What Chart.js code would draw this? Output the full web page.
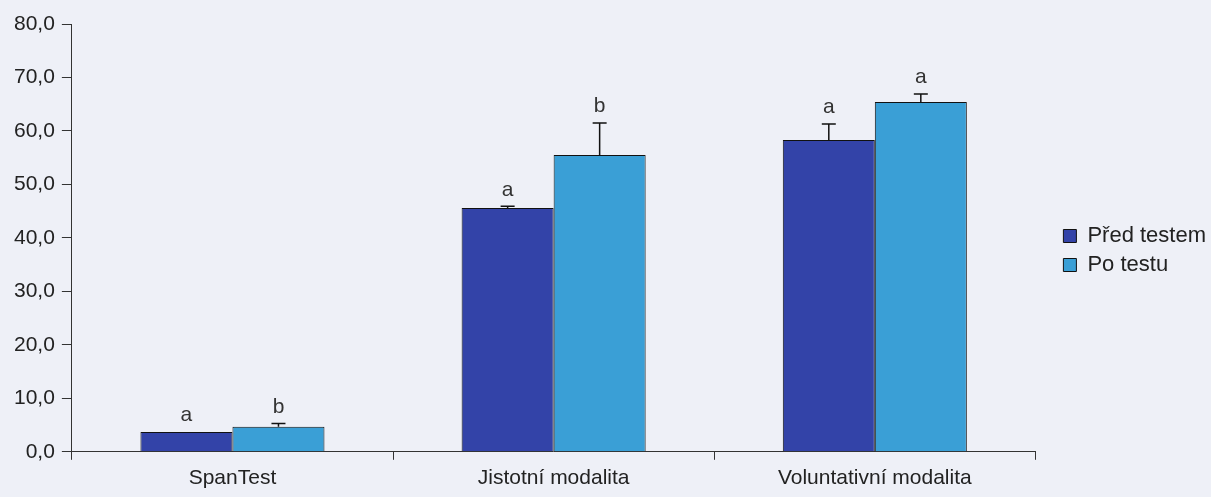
<!DOCTYPE html>
<html>
<head>
<meta charset="utf-8">
<script src="https://cdn.jsdelivr.net/npm/chart.js@4/dist/chart.umd.min.js"></script>
<style>
  html, body { margin: 0; padding: 0; background: #eef0f7; }
  #wrap { width: 1211px; height: 497px; }
</style>
</head>
<body>
<div id="wrap"><canvas id="chart"></canvas></div>
<script>
const categories = ['SpanTest', 'Jistotní modalita', 'Voluntativní modalita'];
const predTestem = [3.7, 45.6, 58.3];
const poTestu = [4.7, 55.5, 65.4];
const predErr = [0, 0.3, 3.0];
const poErr = [0.6, 6.0, 1.5];
const predLetters = ['a', 'a', 'a'];
const poLetters = ['b', 'b', 'a'];

const FONT = '"Liberation Sans", Arial, sans-serif';
const LEGEND_GAP = 16;

// error bars + significance letters drawn on top of the bars
const errorBars = {
    id: 'errorBars',
    afterDatasetsDraw(chart) {
        const ctx = chart.ctx;
        const y = chart.scales.y;
        const errs = [predErr, poErr];
        const letters = [predLetters, poLetters];
        ctx.save();
        ctx.strokeStyle = '#111';
        ctx.lineWidth = 1.5;
        ctx.fillStyle = '#333';
        ctx.font = '21px ' + FONT;
        ctx.textAlign = 'center';
        ctx.textBaseline = 'bottom';
        chart.data.datasets.forEach((ds, i) => {
            chart.getDatasetMeta(i).data.forEach((bar, j) => {
                const top = y.getPixelForValue(ds.data[j] + errs[i][j]);
                if (errs[i][j] > 0) {
                    ctx.beginPath();
                    ctx.moveTo(bar.x, bar.y);
                    ctx.lineTo(bar.x, top);
                    ctx.moveTo(bar.x - 7, top);
                    ctx.lineTo(bar.x + 7, top);
                    ctx.stroke();
                }
                ctx.fillText(letters[i][j], bar.x, top - 6);
            });
        });
        ctx.restore();
    }
};

// leave some empty room between plot and legend
const legendGap = {
    id: 'legendGap',
    beforeLayout(chart) {
        const lg = chart.legend;
        if (!lg || lg._gapPatched) return;
        lg._gapPatched = true;
        const fit = lg.fit;
        const draw = lg.draw;
        lg.fit = function () {
            fit.call(this);
            this.width += LEGEND_GAP;
        };
        lg.draw = function () {
            this.ctx.save();
            this.ctx.translate(LEGEND_GAP + 5, -10);
            draw.call(this);
            this.ctx.restore();
        };
    }
};

new Chart(document.getElementById('chart'), {
    type: 'bar',
    data: {
        labels: categories,
        datasets: [{
            label: 'Před testem',
            data: predTestem,
            backgroundColor: '#3343a8',
            borderColor: '#111',
            borderWidth: 1,
            categoryPercentage: 0.573,
            barPercentage: 1.0
        }, {
            label: 'Po testu',
            data: poTestu,
            backgroundColor: '#3a9fd6',
            borderColor: '#111',
            borderWidth: 1,
            categoryPercentage: 0.573,
            barPercentage: 1.0
        }]
    },
    options: {
        responsive: true,
        maintainAspectRatio: false,
        animation: false,
        layout: { padding: { top: 24, right: 0, bottom: 0, left: 7 } },
        plugins: {
            tooltip: { enabled: false },
            legend: {
                position: 'right',
                labels: {
                    font: { family: FONT, size: 22 },
                    color: '#222',
                    boxWidth: 13,
                    boxHeight: 13,
                    padding: 7
                }
            }
        },
        scales: {
            x: {
                grid: {
                    display: true,
                    drawOnChartArea: false,
                    drawTicks: true,
                    tickLength: 8,
                    color: '#333'
                },
                border: { display: true, color: '#333', width: 1 },
                ticks: {
                    font: { family: FONT, size: 21 },
                    color: '#222',
                    padding: 6
                }
            },
            y: {
                min: 0,
                max: 80,
                grid: {
                    display: true,
                    drawOnChartArea: false,
                    drawTicks: true,
                    tickLength: 10,
                    color: '#333'
                },
                border: { display: true, color: '#333', width: 1 },
                ticks: {
                    stepSize: 10,
                    font: { family: FONT, size: 21 },
                    color: '#222',
                    padding: 7,
                    callback: v => v.toFixed(1).replace('.', ',')
                }
            }
        }
    },
    plugins: [errorBars, legendGap]
});
</script>
</body>
</html>
